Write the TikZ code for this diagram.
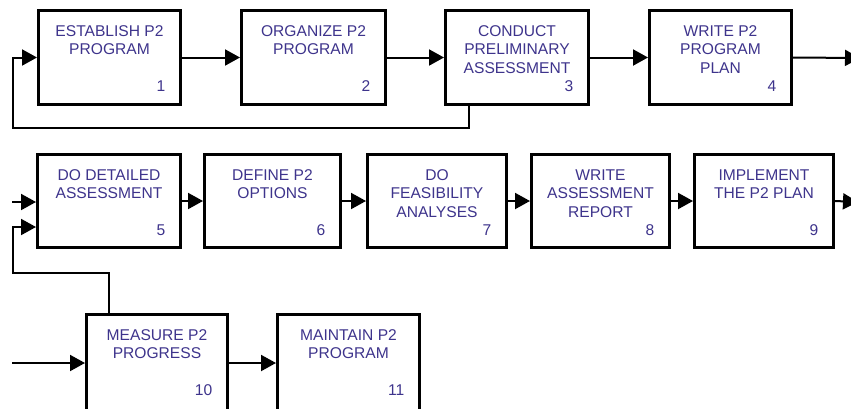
\documentclass[tikz,border=0pt]{standalone}
\usepackage{fontspec}
\setmainfont{Liberation Sans}
\usetikzlibrary{arrows.meta}
\definecolor{txtblue}{RGB}{62,52,140}
\tikzset{
  box/.style={draw=black, line width=3pt, fill=white, inner sep=0pt},
  lbl/.style={anchor=north, inner sep=0pt, align=center, text=txtblue,
    font=\fontsize{15.6}{18.3}\selectfont},
  num/.style={anchor=base east, inner sep=0pt, text=txtblue,
    font=\fontsize{15.6}{18.3}\selectfont},
  arr/.style={draw=black, line width=2pt, -{Triangle[length=15pt,width=16pt]}},
  ln/.style={draw=black, line width=2pt}
}
\newcommand{\procbox}[6]{% name, cx, cy, w, h, text
  \node[box, minimum width=#4pt, minimum height=#5pt] (#1) at (#2,#3) {};
  \node[lbl] (#1t) at ([yshift=-16.5pt]#1.north) {#6};
}
\newcommand{\procnum}[2]{%
  \node[num] (#1n) at ([xshift=-16.5pt,yshift=-82.5pt]#1.north east) {#2};
}
\begin{document}
\begin{tikzpicture}[x=1pt,y=-1pt]
\path[use as bounding box] (0,0) rectangle (851,408);
\clip (0,0) rectangle (851,408);
% row 1
\procbox{b1}{109.5}{57.5}{142}{94}{ESTABLISH P2\\PROGRAM}
\procbox{b2}{313.5}{57.5}{144}{94}{ORGANIZE P2\\PROGRAM}
\procbox{b3}{517}{57.5}{143}{94}{CONDUCT\\PRELIMINARY\\ASSESSMENT}
\procbox{b4}{720.5}{57.5}{142}{94}{WRITE P2\\PROGRAM\\PLAN}
% row 2
\procbox{b5}{109}{201}{143}{93}{DO DETAILED\\ASSESSMENT}
\procbox{b6}{272.5}{201}{136}{93}{DEFINE P2\\OPTIONS}
\procbox{b7}{437}{201}{139}{93}{DO\\FEASIBILITY\\ANALYSES}
\procbox{b8}{600.5}{201}{138}{93}{WRITE\\ASSESSMENT\\REPORT}
\procbox{b9}{764}{201}{139}{93}{IMPLEMENT\\THE P2 PLAN}
% row 3 (boxes run past the lower edge)
\procbox{b10}{157}{369.5}{141}{110}{MEASURE P2\\PROGRESS}
\procbox{b11}{348.5}{369.5}{142}{110}{MAINTAIN P2\\PROGRAM}
\procnum{b1}{1}\procnum{b2}{2}\procnum{b3}{3}\procnum{b4}{4}
\procnum{b5}{5}\procnum{b6}{6}\procnum{b7}{7}\procnum{b8}{8}\procnum{b9}{9}
\procnum{b10}{10}\procnum{b11}{11}
% coordinates
\coordinate (out4) at (860,58);
\coordinate (fbA) at (13,128);
\coordinate (in5) at (12,202);
\coordinate (fbB) at (13,273);
\coordinate (out9) at (858,202);
\coordinate (in10) at (12,363);
% row 1 connectors
\draw[arr] (b1.east) -- (b2.west);
\draw[arr] (b2.east) -- (b3.west);
\draw[arr] (b3.east) -- (b4.west);
\draw[arr] (b4.east) -- (out4);
\draw[arr] ([xshift=25pt]b3.south west) |- (fbA) |- (b1.west);
% row 2 connectors
\draw[arr] (in5) -- (in5 -| b5.west);
\draw[arr] ([xshift=24pt]b10.north west) |- (fbB) |- ([yshift=-26pt]b5.west);
\draw[arr] (b5.east) -- (b6.west);
\draw[arr] (b6.east) -- (b7.west);
\draw[arr] (b7.east) -- (b8.west);
\draw[arr] (b8.east) -- (b9.west);
\draw[arr] (b9.east) -- (out9);
% row 3 connectors
\draw[arr] (in10) -- (in10 -| b10.west);
\draw[arr] (in10 -| b10.east) -- (in10 -| b11.west);
\end{tikzpicture}
\end{document}
